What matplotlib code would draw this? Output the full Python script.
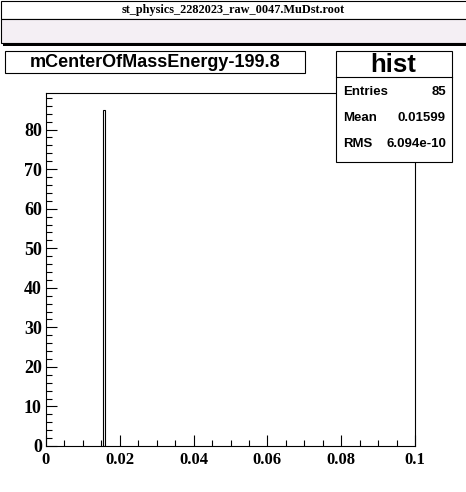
import matplotlib.pyplot as plt
from matplotlib.patches import Rectangle

W, H = 466, 492

file_name = "st_physics_2282023_raw_0047.MuDst.root"
hist_title = "mCenterOfMassEnergy-199.8"
stat_name = "hist"
stat_labels = ["Entries", "Mean", "RMS"]
stat_values = ["85", "0.01599", "6.094e-10"]

bin_left = [0.0155]
bin_width = 0.0005
counts = [85]

x_ticks = [0, 0.02, 0.04, 0.06, 0.08, 0.1]
x_tick_labels = ["0", "0.02", "0.04", "0.06", "0.08", "0.1"]
y_ticks = [0, 10, 20, 30, 40, 50, 60, 70, 80]


def fx(px):
    return px / W


def fy(py):
    return 1 - py / H


fig = plt.figure(figsize=(W / 100, H / 100), dpi=100)
fig.patch.set_facecolor('white')


def box(x0, y0, x1, y1, fc='white', ec='black', lw=0.8):
    fig.add_artist(Rectangle((fx(x0), fy(y1)), (x1 - x0) / W, (y1 - y0) / H,
                             transform=fig.transFigure, fc=fc, ec=ec, lw=lw))


# main frame
ax = fig.add_axes([fx(46), fy(446), (415 - 46) / W, (446 - 93) / H])
ax.bar(bin_left, counts, width=bin_width, align='edge', fill=False,
       edgecolor='black', linewidth=0.8)
ax.set_xlim(0, 0.1)
ax.set_ylim(0, 89.25)
ax.set_xticks(x_ticks)
ax.set_xticklabels(x_tick_labels)
ax.set_yticks(y_ticks)
ax.set_xticks([i * 0.005 for i in range(21)], minor=True)
ax.set_yticks(list(range(0, 89, 2)), minor=True)
for s in ax.spines.values():
    s.set_linewidth(0.8)
ax.tick_params(which='both', direction='in', top=False, right=False, width=0.8)
ax.tick_params(which='major', length=8)
ax.tick_params(which='minor', length=4)
ax.tick_params(axis='x', pad=4)
ax.tick_params(axis='y', pad=3)
for lab in ax.get_xticklabels():
    lab.set_fontfamily('Liberation Serif')
    lab.set_fontweight('bold')
    lab.set_fontsize(12)
for lab in ax.get_yticklabels():
    lab.set_fontfamily('Liberation Serif')
    lab.set_fontweight('bold')
    lab.set_fontsize(13)

# header strip
box(0.5, 0.5, 480, 19)
box(0.5, 19, 480, 43, fc='#f4eff4')
box(3, 43, 480, 46, fc='black', lw=0)
fig.text(fx(233), fy(10), file_name, ha='center', va='center',
         fontfamily='Liberation Serif', fontweight='bold', fontsize=8.8)

# title box
box(5, 51, 305, 73)
fig.text(fx(155), fy(62.5), hist_title, ha='center', va='center',
         fontfamily='Liberation Sans', fontweight='bold', fontsize=13)

# stats box
box(336, 51, 452, 162)
fig.add_artist(plt.Line2D([fx(336), fx(452)], [fy(77), fy(77)],
                          transform=fig.transFigure, color='black', lw=0.8))
fig.text(fx(393), fy(65), stat_name, ha='center', va='center',
         fontfamily='Liberation Sans', fontweight='bold', fontsize=18.5)
for i, (lab, val) in enumerate(zip(stat_labels, stat_values)):
    yy = fy(92 + 26 * i)
    fig.text(fx(343), yy, lab, ha='left', va='center',
             fontfamily='Liberation Sans', fontweight='bold', fontsize=9.5)
    fig.text(fx(446), yy, val, ha='right', va='center',
             fontfamily='Liberation Sans', fontweight='bold', fontsize=9.5)

fig.savefig('out.png', dpi=100)
